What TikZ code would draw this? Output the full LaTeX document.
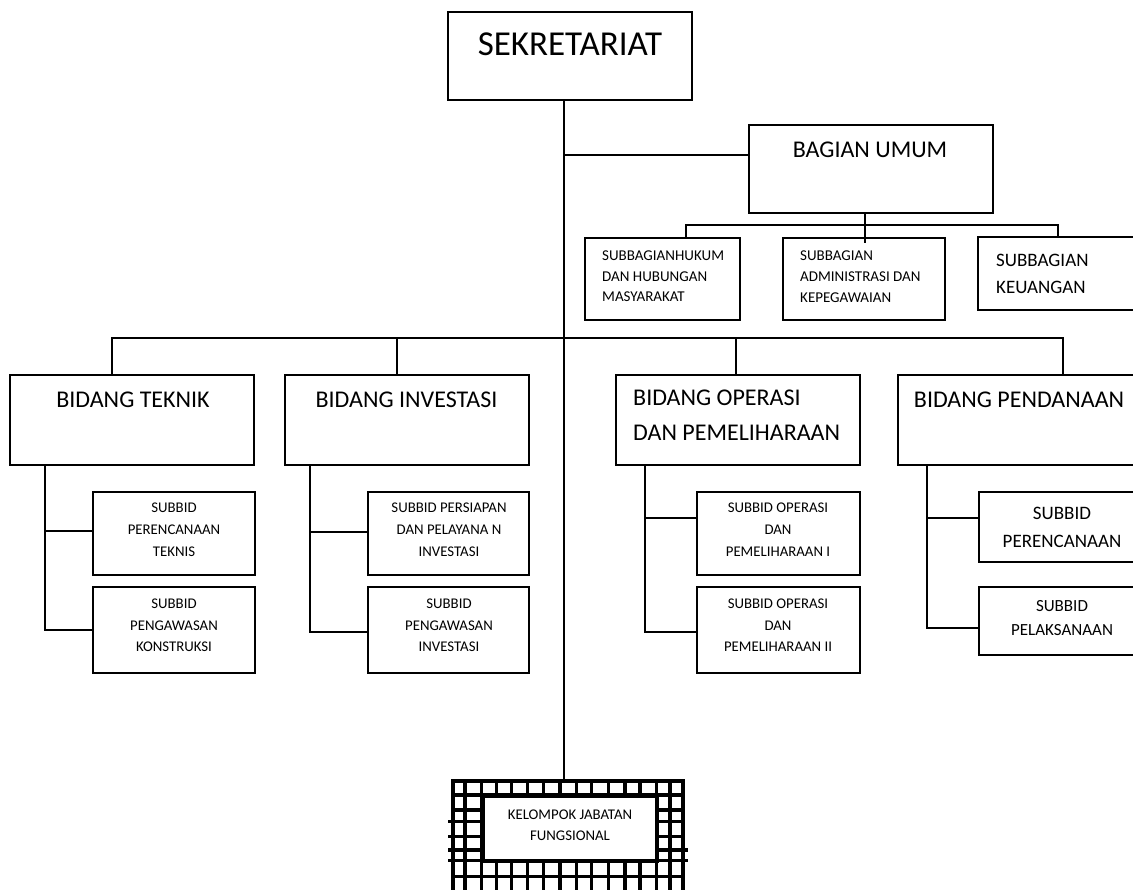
\documentclass[tikz,border=0pt]{standalone}
\usepackage{fontspec}
\setmainfont{Carlito}
\begin{document}
\begin{tikzpicture}[x=1pt,y=-1pt,
  box/.style 2 args={draw, line width=2.7pt, inner sep=0pt, minimum width=#1, minimum height=#2},
  conn/.style={line width=2.4pt},
  gridline/.style={line width=3.1pt},
  lbl/.style={inner sep=0pt, align=center},
  lbll/.style={inner sep=0pt, align=left, anchor=west}]
\useasboundingbox (0,0) rectangle (1133,890);
\fill[white] (0,0) rectangle (1133,890);
\clip (0,0) rectangle (1133,890);

% boxes
\node[box={244pt}{88pt}] (sek) at (570,56) {};
\node[box={244pt}{88pt}] (umum) at (871,169) {};
\node[box={155pt}{82pt}] (hukum) at (662.5,279) {};
\node[box={162pt}{82pt}] (adm) at (864,279) {};
\node[box={172pt}{73pt}] (keu) at (1064,273.5) {};
\node[box={244pt}{90pt}] (teknik) at (132,420) {};
\node[box={244pt}{90pt}] (invest) at (407,420) {};
\node[box={244pt}{90pt}] (operasi) at (738,420) {};
\node[box={252pt}{90pt}] (pendanaan) at (1024,420) {};
\node[box={162pt}{83pt}] (t1) at (174,533.5) {};
\node[box={162pt}{86pt}] (t2) at (174,630) {};
\node[box={161pt}{83pt}] (i1) at (448.5,533.5) {};
\node[box={161pt}{86pt}] (i2) at (448.5,630) {};
\node[box={163pt}{83pt}] (o1) at (778.5,533.5) {};
\node[box={163pt}{86pt}] (o2) at (778.5,630) {};
\node[box={171pt}{70pt}] (p1) at (1064.5,527) {};
\node[box={171pt}{68pt}] (p2) at (1064.5,621) {};

% grid box
\node[draw, gridline, inner sep=0pt, minimum width=230pt, minimum height=130pt] (kelgrid) at (568,846) {};
\foreach \x in {465,481.7,496.7,511.7,527.3,543.3,560,576.7,591.7,608.3,625,640,656.7,670}
  \draw[gridline] (\x,781) -- (\x,895);
\foreach \y in {795,810,821.7,836.7,850,860.7,876.7}
  \draw[gridline] (453,\y) -- (683,\y);
\draw[gridline] (448,821.7) -- (453,821.7);
\draw[gridline] (448,836.7) -- (453,836.7);
\draw[gridline] (448,850) -- (453,850);
\draw[gridline] (448,860.7) -- (453,860.7);
\draw[gridline] (683,850) -- (688,850);
\draw[gridline] (683,860.7) -- (688,860.7);
\node[draw, gridline, fill=white, inner sep=0pt, minimum width=174pt, minimum height=65pt] (kel) at (570,828.5) {};

% coordinates
\coordinate (trunk) at (564,338);
\coordinate (j1) at (564,155);
\coordinate (bus) at (865,225);
\coordinate (tk) at (45,0);
\coordinate (iv) at (310,0);
\coordinate (op) at (645,0);
\coordinate (pd) at (927,0);

% connectors
\draw[conn] (sek.south -| trunk) -- (kelgrid.north -| trunk);
\draw[conn] (j1) -- (j1 -| umum.west);
\draw[conn] (umum.south -| bus) -- ([yshift=-6pt]adm.north -| bus);
\draw[conn] ([xshift=23.5pt]hukum.north) |- (bus) -| ([xshift=-6pt]keu.north);
\draw[conn] ([xshift=-20pt]teknik.north) |- (trunk) -| ([xshift=39pt]pendanaan.north);
\draw[conn] ([xshift=-10pt]invest.north) -- ([xshift=-10pt]invest.north |- trunk);
\draw[conn] ([xshift=-2pt]operasi.north) -- ([xshift=-2pt]operasi.north |- trunk);

\draw[conn] (teknik.south -| tk) |- (t2.west);
\draw[conn] ([yshift=2.5pt]t1.west) -- ([yshift=2.5pt]t1.west -| tk);
\draw[conn] (invest.south -| iv) |- ([yshift=-2pt]i2.west);
\draw[conn] ([yshift=1.5pt]i1.west) -- ([yshift=1.5pt]i1.west -| iv);
\draw[conn] (operasi.south -| op) |- ([yshift=-2pt]o2.west);
\draw[conn] ([yshift=15.5pt]o1.west) -- ([yshift=15.5pt]o1.west -| op);
\draw[conn] (pendanaan.south -| pd) |- ([yshift=-7pt]p2.west);
\draw[conn] ([yshift=9pt]p1.west) -- ([yshift=9pt]p1.west -| pd);

% labels
\node[lbl, font=\fontsize{35}{40}\selectfont] (sekT) at (570,44) {SEKRETARIAT};
\node[lbl, font=\fontsize{24}{30}\selectfont] (umumT) at (870,150) {BAGIAN UMUM};
\node[lbll, font=\fontsize{15}{20.5}\selectfont] (hukumT) at (602,276.5) {SUBBAGIANHUKUM\\DAN HUBUNGAN\\MASYARAKAT};
\node[lbll, font=\fontsize{15}{21}\selectfont] (admT) at (800,277) {SUBBAGIAN\\ADMINISTRASI DAN\\KEPEGAWAIAN};
\node[lbll, font=\fontsize{19}{27}\selectfont] (keuT) at (996,273.5) {SUBBAGIAN\\KEUANGAN};
\node[lbl, font=\fontsize{24}{30}\selectfont] (teknikT) at (133,400) {BIDANG TEKNIK};
\node[lbl, font=\fontsize{24}{30}\selectfont] (investT) at (406.5,400) {BIDANG INVESTASI};
\node[lbll, font=\fontsize{24}{35}\selectfont] (operasiT) at (633,415.5) {BIDANG OPERASI\\DAN PEMELIHARAAN};
\node[lbl, font=\fontsize{24}{30}\selectfont] (pendanaanT) at (1019,400) {BIDANG PENDANAAN};
\node[lbl, font=\fontsize{14.8}{22}\selectfont] (t1T) at (174,530) {SUBBID\\PERENCANAAN\\TEKNIS};
\node[lbl, font=\fontsize{14.8}{21.5}\selectfont] (t2T) at (174,625.5) {SUBBID\\PENGAWASAN\\KONSTRUKSI};
\node[lbl, font=\fontsize{14.8}{22}\selectfont] (i1T) at (449,530) {SUBBID PERSIAPAN\\DAN PELAYANA N\\INVESTASI};
\node[lbl, font=\fontsize{14.8}{21.5}\selectfont] (i2T) at (449,625.5) {SUBBID\\PENGAWASAN\\INVESTASI};
\node[lbl, font=\fontsize{14.8}{22}\selectfont] (o1T) at (778,530) {SUBBID OPERASI\\DAN\\PEMELIHARAAN I};
\node[lbl, font=\fontsize{14.8}{21.5}\selectfont] (o2T) at (778,625.5) {SUBBID OPERASI\\DAN\\PEMELIHARAAN II};
\node[lbl, font=\fontsize{19}{28}\selectfont] (p1T) at (1062,527.5) {SUBBID\\PERENCANAAN};
\node[lbl, font=\fontsize{17}{24}\selectfont] (p2T) at (1062,618) {SUBBID\\PELAKSANAAN};
\node[lbl, font=\fontsize{14.8}{21}\selectfont] (kelT) at (570,825.5) {KELOMPOK JABATAN\\FUNGSIONAL};
\end{tikzpicture}
\end{document}
